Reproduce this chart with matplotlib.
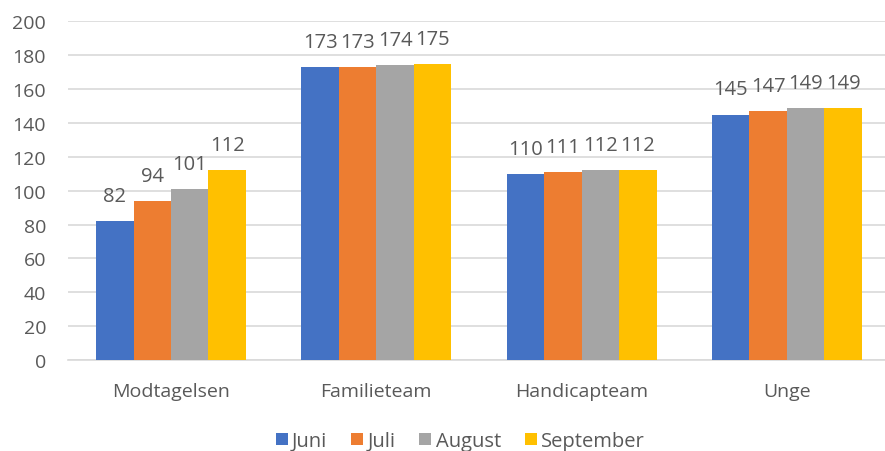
import matplotlib.pyplot as plt
import numpy as np

plt.rcParams['font.family'] = ['Open Sans', 'DejaVu Sans']

categories = ['Modtagelsen', 'Familieteam', 'Handicapteam', 'Unge']
months = ['Juni', 'Juli', 'August', 'September']
juni = [82, 173, 110, 145]
juli = [94, 173, 111, 147]
august = [101, 174, 112, 149]
september = [112, 175, 112, 149]
colors = ['#4472C4', '#ED7D31', '#A5A5A5', '#FFC000']

series = [juni, juli, august, september]
text_col = '#595959'

fig = plt.figure(figsize=(8.85, 4.52), dpi=100)
ax = fig.add_axes([0.0772, 0.2013, 0.928, 0.749])

x = np.arange(len(categories))
w = 0.1825
for i, vals in enumerate(series):
    pos = x + (i - 1.5) * w
    bars = ax.bar(pos, vals, w, color=colors[i], label=months[i], zorder=3)
    ax.bar_label(bars, padding=11, fontsize=14.5, color=text_col)

ax.set_xlim(-0.5, 3.5)
ax.set_ylim(0, 200)
ax.set_yticks(range(0, 201, 20))
ax.set_xticks(x)
ax.set_xticklabels(categories)
ax.tick_params(axis='both', length=0, labelsize=14, labelcolor=text_col)
ax.tick_params(axis='x', pad=16)
ax.tick_params(axis='y', pad=16)
ax.grid(axis='y', color='#D9D9D9', linewidth=1.2, zorder=0)
for s in ['top', 'right', 'left']:
    ax.spines[s].set_visible(False)
ax.spines['bottom'].set_color('#D9D9D9')
ax.spines['bottom'].set_linewidth(1.2)

leg = fig.legend(loc='center', bbox_to_anchor=(0.52, 0.022), ncol=4, frameon=False,
                 fontsize=14.5, handlelength=0.6, handleheight=0.6, handletextpad=0.2,
                 columnspacing=1.2, labelcolor=text_col)

fig.savefig('out.png', dpi=100)
